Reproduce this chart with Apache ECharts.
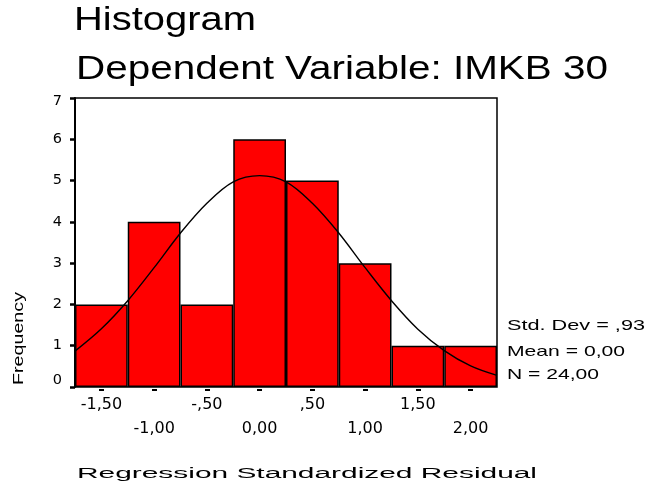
<!DOCTYPE html>
<html>
<head>
<meta charset="utf-8">
<script src="https://cdn.jsdelivr.net/npm/echarts@6/dist/echarts.min.js"></script>
<style>
html,body{margin:0;padding:0;background:#fff;}
#chart{width:647px;height:493px;}
</style>
</head>
<body>
<div id="chart"></div>
<script>
// ---- data ----
const binLabels = ['-1.75 to -1.25','-1.25 to -0.75','-0.75 to -0.25','-0.25 to 0.25','0.25 to 0.75','0.75 to 1.25','1.25 to 1.75','1.75 to 2.25'];
const frequency = [2, 4, 2, 6, 5, 3, 1, 1];
const tickValues = [-1.5, -1, -0.5, 0, 0.5, 1, 1.5, 2];
const tickLabels = ['-1,50', '-1,00', '-,50', '0,00', ',50', '1,00', '1,50', '2,00'];
const yTickLabels = ['0', '1', '2', '3', '4', '5', '6', '7'];
const curveX = [-1.75, -1.5, -1.25, -1, -0.75, -0.5, -0.25, 0, 0.25, 0.5, 0.75, 1, 1.25, 1.5, 1.75, 2, 2.25];
const curveY = [0.87, 1.41, 2.09, 2.89, 3.73, 4.45, 4.97, 5.12, 4.97, 4.45, 3.73, 2.89, 2.09, 1.40, 0.88, 0.51, 0.28];
const titleLines = ['Histogram', 'Dependent Variable: IMKB 30'];
const statsLines = ['Std. Dev = ,93', 'Mean = 0,00', 'N = 24,00'];
const yAxisName = 'Frequency';
const xAxisName = 'Regression Standardized Residual';

// ---- helpers ----
const measureCtx = document.createElement('canvas').getContext('2d');
function stretched(text, size, targetW, x, y, extra) {
  const font = size + "px 'Liberation Sans', Arial, sans-serif";
  measureCtx.font = font;
  const w = measureCtx.measureText(text).width;
  return Object.assign({
    type: 'text', x: x, y: y, scaleX: targetW / w, scaleY: 1, silent: true,
    style: { text: text, font: font, fill: '#000', textAlign: 'left', textVerticalAlign: 'middle' }
  }, extra || {});
}

const chart = echarts.init(document.getElementById('chart'), null, { renderer: 'canvas' });

const graphics = [
  stretched(titleLines[0], 33, 182, 74, 20.5),
  stretched(titleLines[1], 33, 532, 76, 69.5),
  stretched(statsLines[0], 15, 138, 507, 325.8),
  stretched(statsLines[1], 15, 118, 507, 351.7),
  stretched(statsLines[2], 15, 92, 507, 374.5),
  stretched(xAxisName, 15.5, 460, 77, 473.5),
  (function () {
    const g = stretched(yAxisName, 15, 93, 18.5, 338.5, { rotation: Math.PI / 2 });
    g.style.textAlign = 'center';
    return g;
  })()
];

const yLabelFont = { fontFamily: 'DejaVu Sans', fontSize: 14.5, color: '#000' };

const option = {
  backgroundColor: '#fff',
  animation: false,
  grid: { left: 75, right: 150, top: 98, bottom: 106, show: true, borderColor: '#000', borderWidth: 1.5, backgroundColor: 'transparent' },
  xAxis: [
    {
      type: 'value', min: -1.75, max: 2.25, position: 'bottom', offset: 2,
      axisLine: { show: false, onZero: false },
      splitLine: { show: false },
      axisTick: { show: true, customValues: tickValues, length: 2, lineStyle: { color: '#000', width: 5 } },
      axisLabel: {
        show: true, customValues: tickValues, margin: 4,
        fontFamily: 'DejaVu Sans', fontSize: 16, color: '#000', lineHeight: 24,
        verticalAlign: 'top',
        formatter: function (v) {
          let i = -1;
          for (let k = 0; k < tickValues.length; k++) { if (Math.abs(tickValues[k] - v) < 1e-9) i = k; }
          if (i < 0) return '';
          return (i % 2 === 1 ? '\n' : '') + tickLabels[i];
        }
      }
    },
    {
      type: 'category', data: binLabels, show: false, boundaryGap: true, position: 'bottom',
      axisLine: { onZero: false }
    }
  ],
  yAxis: {
    type: 'value', min: 0, max: 7, interval: 1,
    axisLine: { show: true, onZero: false, lineStyle: { color: '#000', width: 2 } },
    axisTick: { show: true, length: 5, lineStyle: { color: '#000', width: 2.5 } },
    splitLine: { show: false },
    axisLabel: Object.assign({
      margin: 13, verticalAlign: 'middle',
      formatter: function (v) {
        const s = yTickLabels[Math.round(v)];
        if (v === 0) return '{lo|' + s + '}';
        if (v === 7) return '{hi|' + s + '}';
        return s;
      },
      rich: {
        lo: Object.assign({ padding: [0, 0, 14, 0] }, yLabelFont),
        hi: Object.assign({ padding: [6, 0, 0, 0] }, yLabelFont)
      }
    }, yLabelFont)
  },
  series: [
    {
      type: 'bar', xAxisIndex: 1, yAxisIndex: 0, data: frequency,
      barCategoryGap: '0%', barGap: '0%',
      itemStyle: { color: '#FF0000', borderColor: '#000', borderWidth: 1.5 },
      z: 2
    },
    {
      type: 'line', xAxisIndex: 0, yAxisIndex: 0,
      data: curveX.map((x, i) => [x, curveY[i]]),
      smooth: 0.35, showSymbol: false, symbol: 'none',
      lineStyle: { color: '#000', width: 1.4 },
      z: 3
    }
  ],
  graphic: graphics
};
chart.setOption(option);
</script>
</body>
</html>
